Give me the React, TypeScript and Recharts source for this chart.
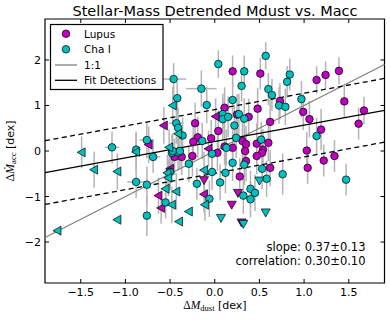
import React from 'react';
import {
  ScatterChart,
  Scatter,
  XAxis,
  YAxis,
  ErrorBar,
  ReferenceLine,
  ReferenceArea
} from 'recharts';

// [dMdust, dMacc, yErr, xErr]
const lupusDet = [
  [0.20, 1.75, 0.35], [0.51, 1.70, 0.35], [1.14, 1.56, 0.3], [1.24, 1.67, 0.3],
  [1.39, 1.76, 0.3], [0.73, 1.10, 0.4], [1.45, 1.09, 0.35], [1.67, 0.89, 0.3],
  [1.61, 0.60, 0.35], [0.99, 0.86, 0.4], [1.06, 0.70, 0.4], [1.19, 0.47, 0.45],
  [0.48, 0.93, 0.45], [0.62, 0.64, 0.5], [0.11, 0.95, 0.45], [0.25, 0.80, 0.45],
  [0.38, 0.75, 0.4], [0.04, 0.44, 0.45], [-0.04, 0.28, 0.4], [0.31, 0.22, 0.45],
  [0.35, 0.15, 0.4], [0.47, 0.16, 0.45], [0.60, 0.18, 0.4], [0.54, 0.03, 0.45],
  [0.53, -0.04, 0.4], [0.20, 0.07, 0.4], [0.03, -0.04, 0.4], [1.03, 0.01, 0.4],
  [1.04, -0.37, 0.35], [1.22, -0.21, 0.35], [1.34, -0.11, 0.35], [0.62, -0.37, 0.4],
  [0.47, -0.11, 0.4], [0.35, -0.22, 0.45], [0.28, -0.56, 0.4], [-0.22, 0.61, 0.45],
  [-0.19, 0.30, 0.45], [-0.24, 0.20, 0.4], [-0.37, -0.13, 0.4], [-0.25, -0.11, 0.45],
  [0.34, 0.00, 0.4], [0.11, 0.10, 0.4], [-0.45, -0.13, 0.4]
];
// upper limits on dust mass (left-pointing)
const lupusXLim = [
  [0.01, 0.76, 0.4], [-0.57, 0.56, 0.4], [-0.74, 0.14, 0.4], [-0.07, 0.05, 0.4],
  [-0.63, -0.98, 0.4], [-0.60, -1.25, 0.35], [-0.12, -0.95, 0.4], [-0.50, -0.39, 0.4]
];
// upper limits on accretion (down-pointing)
const lupusYLim = [[-0.12, -0.64], [0.26, -0.92], [0.19, -1.18], [0.30, -1.57]];

const chaDet = [
  [0.04, 1.91, 0.3], [0.33, 1.75, 0.35], [0.57, 2.09, 0.3], [0.84, 1.68, 0.35],
  [0.81, 1.52, 0.35], [0.30, 1.43, 0.35], [-0.46, 1.58, 0.35, 0.14], [-0.15, 1.37, 0.4, 0.17],
  [0.60, 1.36, 0.35], [0.64, 1.23, 0.35], [-0.42, 1.16, 0.35], [0.20, 1.12, 0.4],
  [0.97, 1.14, 0.4], [-0.09, 1.01, 0.4], [0.72, 1.00, 0.4], [0.79, 0.97, 0.4],
  [1.14, 0.33, 0.4], [0.09, 0.81, 0.45], [0.09, 0.70, 0.45], [0.15, 0.75, 0.45],
  [0.27, 0.81, 0.45], [0.33, 0.71, 0.45], [0.22, 0.56, 0.45], [0.24, 0.29, 0.45],
  [0.52, 0.25, 0.4], [0.13, 0.07, 0.4], [-0.03, -0.06, 0.4], [-0.43, 0.61, 0.45, 0.08],
  [-0.41, 0.51, 0.45], [-0.36, 0.34, 0.4], [-0.76, 0.24, 0.4, 0.08], [-1.15, 0.08, 0.35, 0.08],
  [-0.88, 0.03, 0.4], [-0.69, -0.13, 0.35, 0.08], [-0.88, -0.68, 0.35, 0.1], [-0.76, -0.74, 0.4],
  [-0.55, -1.13, 0.35], [-0.76, -1.42, 0.45], [-0.48, -0.04, 0.4], [-0.41, -0.03, 0.4],
  [-0.29, -0.28, 0.4], [-0.50, -0.46, 0.4], [-0.20, -0.72, 0.35], [-0.03, -0.46, 0.4],
  [-0.06, -1.05, 0.4], [0.12, -0.48, 0.45], [0.06, -0.69, 0.4], [0.20, -0.26, 0.4],
  [0.33, -0.30, 0.45], [0.53, -0.39, 0.45], [0.58, -0.61, 0.4], [0.76, -0.51, 0.45],
  [1.47, -0.63, 0.35], [0.40, -0.83, 0.4], [0.45, -0.92, 0.4], [0.32, -0.98, 0.4],
  [0.40, -1.06, 0.4], [-0.14, 0.22, 0.4], [-0.47, 0.00, 0.4], [-0.39, 0.00, 0.4]
];
const chaXLim = [
  [-0.47, 1.00, 0.4], [-0.41, 0.38, 0.4], [-1.49, -0.03, 0.35], [-0.88, -0.02, 0.4],
  [-0.51, 0.08, 0.4], [-1.35, -0.41, 0.4], [-1.09, -0.45, 0.4], [-0.53, -0.48, 0.4],
  [-0.52, -0.59, 0.4], [-0.55, -0.83, 0.4], [-0.43, -0.89, 0.4], [-0.48, -1.18, 0.4],
  [-1.09, -1.51, 0], [-1.76, -1.75, 0], [-0.29, -1.33, 0], [-0.40, -1.55, 0],
  [-0.12, -0.42, 0.4], [-0.11, -1.18, 0.35]
];
const chaYLim = [[0.50, -0.65], [0.07, -1.47], [0.32, -1.60], [0.57, -1.35]];

const xTicks = [-1.5, -1, -0.5, 0, 0.5, 1, 1.5];
const yTicks = [-2, -1, 0, 1, 2];
const X_DOMAIN = [-1.9, 1.9];
const Y_DOMAIN = [-2.9, 2.9];

// fit to detections: slope / intercept / scatter band
const fitSlope = 0.36;
const fitIntercept = 0.21;
const fitBand = 0.7;

const W = 390;
const H = 321;
const PLOT_T = 19;
const PLOT_B = H - 38;
const PLOT_L = 45;

const MAGENTA = '#bf00bf';
const CYAN = '#00bfbf';
const ERR = '#b4b4b4';
const SANS = '"DejaVu Sans", Verdana, sans-serif';
const SERIF = '"Liberation Serif", "DejaVu Serif", serif';

const rows = (a: number[][]) =>
  a.map(([x, y, ey = 0, ex = 0]) => ({ x, y, ey, ex }));

const fmt = (v: number, d: number) => v.toFixed(d).replace('-', '\u2212');

const XTick = (props: any) => {
  const { x, payload } = props;
  return (
    <g>
      <line x1={x} x2={x} y1={PLOT_B} y2={PLOT_B - 4} stroke="#000" />
      <line x1={x} x2={x} y1={PLOT_T} y2={PLOT_T + 4} stroke="#000" />
      <text x={x} y={PLOT_B + 12.5} textAnchor="middle" fontSize={11} fontFamily={SANS} fill="#000">
        {fmt(payload.value, 1)}
      </text>
    </g>
  );
};

const YTick = (props: any) => {
  const { y, payload } = props;
  return (
    <g>
      <line x1={PLOT_L} x2={PLOT_L + 4} y1={y} y2={y} stroke="#000" />
      <line x1={W - 5.5} x2={W - 9.5} y1={y} y2={y} stroke="#000" />
      <text x={PLOT_L - 4} y={y + 4} textAnchor="end" fontSize={11} fontFamily={SANS} fill="#000">
        {fmt(payload.value, 0)}
      </text>
    </g>
  );
};

const circle = (fill: string) => (p: any) =>
  <circle cx={p.cx} cy={p.cy} r={3.8} fill={fill} stroke="#000" strokeWidth={0.7} />;

const leftTri = (fill: string) => (p: any) => (
  <polygon
    points={`${p.cx - 4.5},${p.cy} ${p.cx + 3.5},${p.cy - 4.5} ${p.cx + 3.5},${p.cy + 4.5}`}
    fill={fill} stroke="#000" strokeWidth={0.7}
  />
);

const downTri = (fill: string) => (p: any) => (
  <polygon
    points={`${p.cx - 4.5},${p.cy - 3.5} ${p.cx + 4.5},${p.cy - 3.5} ${p.cx},${p.cy + 4.5}`}
    fill={fill} stroke="#000" strokeWidth={0.7}
  />
);

const none = () => <g />;

const fitAt = (x: number, off: number) => fitIntercept + fitSlope * x + off;

const App = () => {
  const withErr = [lupusDet, lupusXLim, chaDet, chaXLim].map(rows);
  const groups = [
    { data: rows(lupusDet), shape: circle(MAGENTA) },
    { data: rows(lupusXLim), shape: leftTri(MAGENTA) },
    { data: rows(lupusYLim), shape: downTri(MAGENTA) },
    { data: rows(chaDet), shape: circle(CYAN) },
    { data: rows(chaXLim), shape: leftTri(CYAN) },
    { data: rows(chaYLim), shape: downTri(CYAN) }
  ];
  const [x0, x1] = X_DOMAIN;

  return (
    <div style={{ position: 'absolute', left: 0, top: 0, width: W, height: H, background: '#fff' }}>
      <ScatterChart width={W} height={H} margin={{ top: PLOT_T, right: 5.5, bottom: 0, left: 0 }}>
        <XAxis
          type="number" dataKey="x" domain={X_DOMAIN} ticks={xTicks} height={38}
          axisLine={false} tickLine={false} tick={<XTick />} allowDataOverflow
        />
        <YAxis
          type="number" dataKey="y" domain={Y_DOMAIN} ticks={yTicks} width={PLOT_L}
          axisLine={false} tickLine={false} tick={<YTick />} allowDataOverflow
        />
        {withErr.map((d, i) => (
          <Scatter key={`err-${i}`} data={d} shape={none} isAnimationActive={false}>
            <ErrorBar dataKey="ey" direction="y" width={0} stroke={ERR} strokeWidth={1.5} />
            <ErrorBar dataKey="ex" direction="x" width={0} stroke={ERR} strokeWidth={1.5} />
          </Scatter>
        ))}
        {groups.map((g, i) => (
          <Scatter key={`pts-${i}`} data={g.data} shape={g.shape} isAnimationActive={false} />
        ))}
        <ReferenceLine
          segment={[{ x: x0, y: x0 }, { x: x1, y: x1 }]}
          stroke="#808080" strokeWidth={1.3}
        />
        <ReferenceLine
          segment={[{ x: x0, y: fitAt(x0, 0) }, { x: x1, y: fitAt(x1, 0) }]}
          stroke="#000" strokeWidth={1.3}
        />
        <ReferenceLine
          segment={[{ x: x0, y: fitAt(x0, fitBand) }, { x: x1, y: fitAt(x1, fitBand) }]}
          stroke="#000" strokeWidth={1.3} strokeDasharray="5 3.5"
        />
        <ReferenceLine
          segment={[{ x: x0, y: fitAt(x0, -fitBand) }, { x: x1, y: fitAt(x1, -fitBand) }]}
          stroke="#000" strokeWidth={1.3} strokeDasharray="5 3.5"
        />
        <ReferenceArea
          x1={X_DOMAIN[0]} x2={X_DOMAIN[1]} y1={Y_DOMAIN[0]} y2={Y_DOMAIN[1]}
          fill="none" fillOpacity={0} stroke="#000" strokeWidth={1.2}
        />
      </ScatterChart>

      <svg width={W} height={H} style={{ position: 'absolute', left: 0, top: 0, pointerEvents: 'none' }}>
        <text x={215} y={16} textAnchor="middle" fontSize={14.5} fontFamily={SANS} fill="#000">
          Stellar-Mass Detrended Mdust vs. Macc
        </text>

        {/* legend */}
        <rect x={50.5} y={24.5} width={112.5} height={65} fill="#fff" stroke="#000" strokeWidth={1.2} />
        <circle cx={66} cy={33.7} r={3.8} fill={MAGENTA} stroke="#000" strokeWidth={0.7} />
        <text x={84} y={37.5} fontSize={10.5} fontFamily={SANS}>Lupus</text>
        <circle cx={66} cy={49.3} r={3.8} fill={CYAN} stroke="#000" strokeWidth={0.7} />
        <text x={84} y={53.1} fontSize={10.5} fontFamily={SANS}>Cha I</text>
        <line x1={55} x2={77} y1={65} y2={65} stroke="#808080" strokeWidth={1.3} />
        <text x={84} y={68.8} fontSize={10.5} fontFamily={SANS}>1:1</text>
        <line x1={55} x2={77} y1={80.3} y2={80.3} stroke="#000" strokeWidth={1.3} />
        <text x={84} y={84.1} fontSize={10.5} fontFamily={SANS}>Fit Detections</text>

        {/* fit stats */}
        <text x={365.5} y={251} textAnchor="end" fontSize={11.5} fontFamily={SANS}>slope: 0.37±0.13</text>
        <text x={365.5} y={264.5} textAnchor="end" fontSize={11.5} fontFamily={SANS}>correlation: 0.30±0.10</text>

        {/* x label */}
        <text x={215} y={309} textAnchor="middle" fontSize={11} fontFamily={SANS}>
          <tspan fontFamily={SERIF} fontSize={11.5}>Δ</tspan>
          <tspan fontFamily={SERIF} fontSize={11.5} fontStyle="italic">M</tspan>
          <tspan fontFamily={SERIF} fontSize={8.5} dy={2}>dust</tspan>
          <tspan dy={-2}> [dex]</tspan>
        </text>

        {/* y label */}
        <text transform="translate(14,151) rotate(-90)" textAnchor="middle" fontSize={11} fontFamily={SANS}>
          <tspan fontFamily={SERIF} fontSize={12}>Δ</tspan>
          <tspan fontFamily={SERIF} fontSize={12} fontStyle="italic">Ṁ</tspan>
          <tspan fontFamily={SERIF} fontSize={8.5} dy={2}>acc</tspan>
          <tspan dy={-2}> [dex]</tspan>
        </text>
      </svg>
    </div>
  );
};

export default App;
